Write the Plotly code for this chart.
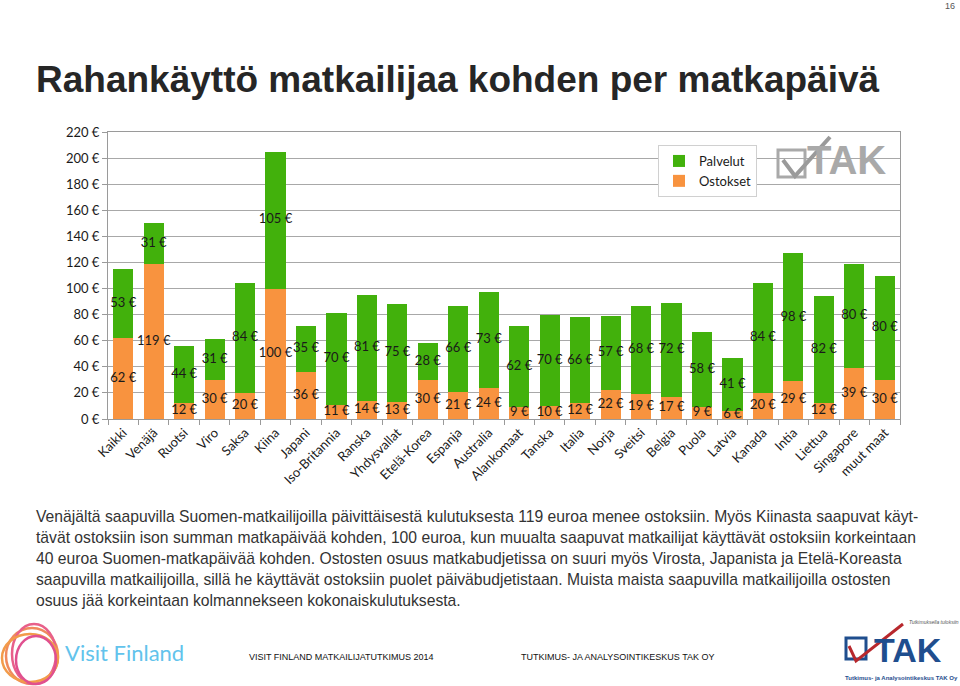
import plotly.graph_objects as go

countries = ["Kaikki", "Venäjä", "Ruotsi", "Viro", "Saksa", "Kiina", "Japani", "Iso-Britannia",
             "Ranska", "Yhdysvallat", "Etelä-Korea", "Espanja", "Australia", "Alankomaat", "Tanska",
             "Italia", "Norja", "Sveitsi", "Belgia", "Puola", "Latvia", "Kanada", "Intia", "Liettua",
             "Singapore", "muut maat"]
ostokset = [62, 119, 12, 30, 20, 100, 36, 11, 14, 13, 30, 21, 24, 9, 10, 12, 22, 19, 17, 9, 6, 20, 29, 12, 39, 30]
palvelut = [53, 31, 44, 31, 84, 105, 35, 70, 81, 75, 28, 66, 73, 62, 70, 66, 57, 68, 72, 58, 41, 84, 98, 82, 80, 80]
y_ticks = list(range(0, 221, 20))

title_text = "Rahankäyttö matkailijaa kohden per matkapäivä"
paragraph = [
    "Venäjältä saapuvilla Suomen-matkailijoilla päivittäisestä kulutuksesta 119 euroa menee ostoksiin. Myös Kiinasta saapuvat käyt-",
    "tävät ostoksiin ison summan matkapäivää kohden, 100 euroa, kun muualta saapuvat matkailijat käyttävät ostoksiin korkeintaan",
    "40 euroa Suomen-matkapäivää kohden. Ostosten osuus matkabudjetissa on suuri myös Virosta, Japanista ja Etelä-Koreasta",
    "saapuvilla matkailijoilla, sillä he käyttävät ostoksiin puolet päiväbudjetistaan. Muista maista saapuvilla matkailijoilla ostosten",
    "osuus jää korkeintaan kolmannekseen kokonaiskulutuksesta.",
]

GREEN = "#42B10C"
ORANGE = "#F8933F"
LBL_FONT = dict(family="Lato, Open Sans, sans-serif", size=13, color="#1a1a1a")
TAK_BLUE = "#1F4E8E"

# plot area in figure pixels
PL, PR, PT, PB = 108, 900, 132, 419
W, H = 960, 686


def px(x, y):
    return (x - PL) / (PR - PL), (PB - y) / (PB - PT)


fig = go.Figure()
fig.add_trace(go.Bar(x=countries, y=ostokset, name="Ostokset", marker=dict(color=ORANGE, line=dict(width=0))))
fig.add_trace(go.Bar(x=countries, y=palvelut, name="Palvelut", marker=dict(color=GREEN, line=dict(width=0))))

fig.add_trace(go.Scatter(x=countries, y=[o / 2 for o in ostokset], mode="text",
                         text=[f"{o} €" for o in ostokset], textfont=LBL_FONT,
                         showlegend=False, hoverinfo="skip", cliponaxis=False))
fig.add_trace(go.Scatter(x=countries, y=[o + p / 2 for o, p in zip(ostokset, palvelut)], mode="text",
                         text=[f"{p} €" for p in palvelut], textfont=LBL_FONT,
                         showlegend=False, hoverinfo="skip", cliponaxis=False))

lx, ly = px(658, 145)
fig.update_layout(
    width=W, height=H,
    margin=dict(l=PL, r=W - PR, t=PT, b=H - PB),
    paper_bgcolor="white", plot_bgcolor="white",
    barmode="stack", bargap=0.34,
    showlegend=True,
    legend=dict(x=lx, y=ly, xanchor="left", yanchor="top", traceorder="reversed",
                bgcolor="white", bordercolor="#d0d0d0", borderwidth=1,
                font=dict(family="Lato, Open Sans, sans-serif", size=13, color="#1a1a1a"),
                itemwidth=30, tracegroupgap=2),
    font=dict(family="Lato, sans-serif", color="#1a1a1a"),
)
fig.update_xaxes(type="category", range=[-0.5, len(countries) - 0.5], tickangle=-45, automargin=False,
                 tickfont=dict(family="Lato, Open Sans, sans-serif", size=13, color="#1a1a1a"),
                 showline=True, linecolor="#9a9a9a", linewidth=1, mirror=True,
                 ticks="outside", tickson="boundaries", ticklen=5, tickcolor="#9a9a9a",
                 showgrid=False)
fig.update_yaxes(range=[0, 220], tickvals=y_ticks, ticktext=[f"{v} €" for v in y_ticks], automargin=False,
                 tickfont=dict(family="Lato, Open Sans, sans-serif", size=13, color="#1a1a1a"),
                 showline=True, linecolor="#9a9a9a", linewidth=1, mirror=True,
                 ticks="outside", ticklen=5, tickcolor="#9a9a9a",
                 showgrid=True, gridcolor="#a8a8a8", gridwidth=1, zeroline=False)


def A(text, x, y, xanchor="left", size=12, family="Liberation Sans, Arial, sans-serif", color="#111"):
    xx, yy = px(x, y)
    return dict(text=text, x=xx, y=yy, xref="paper", yref="paper", xanchor=xanchor, yanchor="middle",
                showarrow=False, borderpad=0, font=dict(family=family, size=size, color=color))


ann = []
ann.append(A(f"<b>{title_text}</b>", 35, 80, size=37, color="#262626"))
ann.append(A("16", 956, 6, xanchor="right", size=9, color="#555"))
line_y = [516, 537, 558, 579, 600]
for t, yy in zip(paragraph, line_y):
    ann.append(A(t, 35, yy, size=15.7, color="#333333"))
# watermark TAK
ann.append(A("<b>TAK</b>", 846, 160, xanchor="center", size=40, color="#a9a9a9"))
# footer
ann.append(A("Visit Finland", 64, 652, size=22, family="Lato, sans-serif", color="#62C3EC"))
ann.append(A("VISIT FINLAND MATKAILIJATUTKIMUS 2014", 248, 657, size=9,
             family="Liberation Sans Narrow, Liberation Sans"))
ann.append(A("TUTKIMUS- JA ANALYSOINTIKESKUS TAK OY", 520, 657, size=9,
             family="Liberation Sans Narrow, Liberation Sans"))
ann.append(A("<b>TAK</b>", 908, 650, xanchor="center", size=34, color=TAK_BLUE))
ann.append(A("<b>Tutkimus- ja Analysointikeskus TAK Oy</b>", 901, 678, xanchor="center", size=6, color=TAK_BLUE))
ann.append(A("<i>Tutkimuksella tuloksiin</i>", 934, 622, xanchor="center", size=5, color="#555"))
fig.update_layout(annotations=ann)

shapes = []


def rect(x0, y0, x1, y1, color, width):
    a = px(x0, y0); b = px(x1, y1)
    return dict(type="rect", xref="paper", yref="paper", x0=a[0], y0=b[1], x1=b[0], y1=a[1],
                line=dict(color=color, width=width))


def path(points, color, width):
    pts = [px(x, y) for x, y in points]
    d = "M " + " L ".join(f"{p[0]} {p[1]}" for p in pts)
    return dict(type="path", xref="paper", yref="paper", path=d, line=dict(color=color, width=width))


# watermark box + check
shapes.append(rect(778, 150, 805, 177, "#a9a9a9", 3))
shapes.append(path([(783, 160), (795, 176), (830, 137)], "#9a9a9a", 4))
# Visit Finland logo rings
for (cx, cy, rx, ry, col) in [(32, 656, 26, 28, "#F08A5D"), (34, 654, 22, 30, "#E8608A"),
                              (30, 658, 28, 24, "#F29B4A"), (36, 660, 20, 24, "#E0508F")]:
    a = px(cx - rx, cy - ry); b = px(cx + rx, cy + ry)
    shapes.append(dict(type="circle", xref="paper", yref="paper", x0=a[0], y0=b[1], x1=b[0], y1=a[1],
                       line=dict(color=col, width=2.5)))
# TAK footer logo
shapes.append(rect(846, 638, 866, 659, TAK_BLUE, 3))
shapes.append(path([(849, 646), (856, 661), (903, 624)], "#B8282D", 3))
fig.update_layout(shapes=shapes)

fig.write_html("out.html", config={"displayModeBar": False},
               post_script="document.body.style.margin='0';document.body.style.padding='0';")
